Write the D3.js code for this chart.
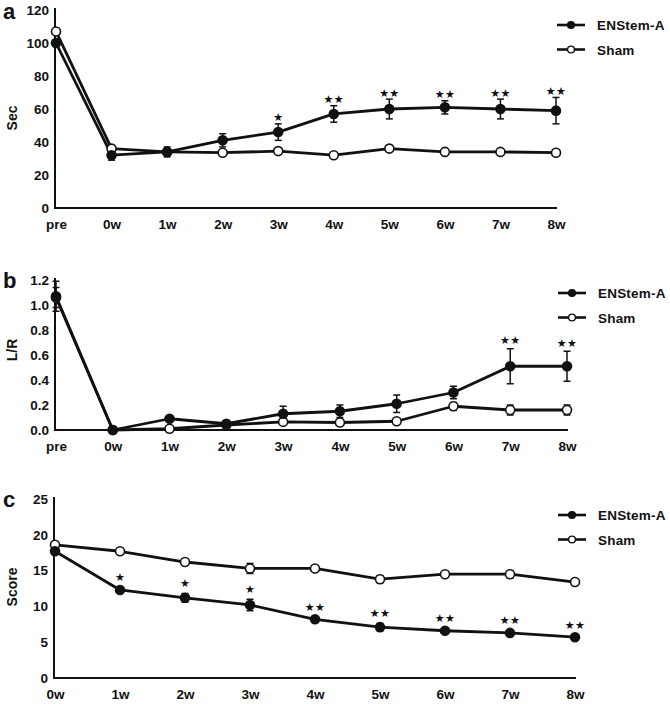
<!DOCTYPE html>
<html>
<head>
<meta charset="utf-8">
<script src="https://cdn.jsdelivr.net/npm/d3@7"></script>
<style>
  body { margin: 0; background: #fff; }
  svg { display: block; }
  text { font-family: "Liberation Sans", Arial, sans-serif; font-weight: bold; fill: #111; }
</style>
</head>
<body>
<svg id="chart" width="670" height="704"></svg>
<script>
// ---------- DATA ----------
const catsAB = ["pre", "0w", "1w", "2w", "3w", "4w", "5w", "6w", "7w", "8w"];
const catsC = ["0w", "1w", "2w", "3w", "4w", "5w", "6w", "7w", "8w"];
const seriesNames = ["ENStem-A", "Sham"];

// Panel a (Sec)
const aTicks = [0, 20, 40, 60, 80, 100, 120];
const aEN = [100, 32, 34, 41, 46, 57, 60, 61, 60, 59];
const aENerr = [2, 3, 3, 4, 5, 5, 6, 4, 6, 8];
const aSham = [107, 36, 34, 33.5, 34.5, 32, 36, 34, 34, 33.5];
const aShamErr = [1, 1, 1, 1, 1, 1, 1, 1, 1, 1];
const aSig = ["", "", "", "", "*", "**", "**", "**", "**", "**"];

// Panel b (L/R)
const bTicks = [0, 0.2, 0.4, 0.6, 0.8, 1.0, 1.2];
const bEN = [1.07, 0, 0.09, 0.05, 0.13, 0.15, 0.21, 0.30, 0.51, 0.51];
const bENerr = [0.12, 0, 0.02, 0.01, 0.06, 0.05, 0.07, 0.05, 0.14, 0.12];
const bSham = [1.06, 0, 0.01, 0.04, 0.065, 0.06, 0.07, 0.19, 0.16, 0.16];
const bShamErr = [0.08, 0, 0.01, 0.01, 0.02, 0.01, 0.01, 0.03, 0.04, 0.04];
const bSig = ["", "", "", "", "", "", "", "", "**", "**"];

// Panel c (Score)
const cTicks = [0, 5, 10, 15, 20, 25];
const cEN = [17.7, 12.3, 11.2, 10.2, 8.2, 7.1, 6.6, 6.3, 5.7];
const cENerr = [0.4, 0.3, 0.6, 0.8, 0.3, 0.5, 0.3, 0.3, 0.3];
const cSham = [18.6, 17.7, 16.2, 15.3, 15.3, 13.8, 14.5, 14.5, 13.4];
const cShamErr = [0.3, 0.3, 0.4, 0.7, 0.3, 0.5, 0.3, 0.5, 0.3];
const cSig = ["", "*", "*", "*", "**", "**", "**", "**", "**"];

// ---------- DRAW ----------
const svg = d3.select("#chart");

const panels = [
  { letter: "a", ylabel: "Sec", cats: catsAB, ticks: aTicks, fmt: d3.format("d"),
    en: aEN, enErr: aENerr, sham: aSham, shamErr: aShamErr, sig: aSig,
    x0: 56, x1: 556, yTop: 10, yBot: 208, letterY: 19, ylabY: 118,
    legY: 25, legX: 557, starOff: 7 },
  { letter: "b", ylabel: "L/R", cats: catsAB, ticks: bTicks, fmt: d3.format(".1f"),
    en: bEN, enErr: bENerr, sham: bSham, shamErr: bShamErr, sig: bSig,
    x0: 56, x1: 567, yTop: 280, yBot: 430, letterY: 288, ylabY: 350,
    legY: 293, legX: 558, starOff: 9 },
  { letter: "c", ylabel: "Score", cats: catsC, ticks: cTicks, fmt: d3.format("d"),
    en: cEN, enErr: cENerr, sham: cSham, shamErr: cShamErr, sig: cSig,
    x0: 55, x1: 575, yTop: 499, yBot: 678, letterY: 507, ylabY: 587,
    legY: 515, legX: 558, starOff: 11 }
];

panels.forEach(p => {
  const g = svg.append("g");
  const x = d3.scalePoint().domain(p.cats).range([p.x0, p.x1]);
  const ymax = p.ticks[p.ticks.length - 1];
  const y = d3.scaleLinear().domain([0, ymax]).range([p.yBot, p.yTop]);

  // panel letter
  g.append("text").attr("x", 3).attr("y", p.letterY)
    .attr("font-size", 22).text(p.letter);

  // y axis (no tick marks)
  const yAxis = g.append("g").attr("transform", `translate(${p.x0 - 1},0)`)
    .call(d3.axisLeft(y).tickValues(p.ticks).tickFormat(p.fmt).tickSize(0).tickPadding(6));
  yAxis.select(".domain").attr("stroke", "#111").attr("stroke-width", 2)
    .attr("d", `M0,${y(0) + 1}V${y(ymax) - 2}`);
  yAxis.selectAll("text").attr("font-size", 13.5)
    .style("font-family", "'Liberation Sans', Arial, sans-serif").style("font-weight", "bold")
    .attr("fill", "#111");

  // x axis
  const xAxis = g.append("g").attr("transform", `translate(0,${p.yBot})`)
    .call(d3.axisBottom(x).tickSize(0).tickPadding(11));
  xAxis.select(".domain").attr("stroke", "#111").attr("stroke-width", 2)
    .attr("d", `M${p.x0 - 2},0H${p.x1 + 1}`);
  xAxis.selectAll("text").attr("font-size", 13.5)
    .style("font-family", "'Liberation Sans', Arial, sans-serif").style("font-weight", "bold")
    .attr("fill", "#111");

  // y label
  g.append("text")
    .attr("transform", `translate(17,${p.ylabY}) rotate(-90)`)
    .attr("text-anchor", "middle").attr("font-size", 14).text(p.ylabel);

  const line = d3.line().x((d, i) => x(p.cats[i])).y(d => y(d));

  const series = [
    { vals: p.en, err: p.enErr, filled: true },
    { vals: p.sham, err: p.shamErr, filled: false }
  ];

  // lines
  series.forEach(s => {
    g.append("path").datum(s.vals).attr("d", line)
      .attr("fill", "none").attr("stroke", "#111").attr("stroke-width", 2.8)
      .attr("stroke-linejoin", "round");
  });

  // error bars
  series.forEach(s => {
    const eg = g.append("g").attr("stroke", "#111").attr("stroke-width", 1.5);
    s.vals.forEach((v, i) => {
      const e = s.err[i];
      if (!e) return;
      const cx = x(p.cats[i]);
      const yt = y(v + e), yb = y(Math.max(0, v - e));
      eg.append("line").attr("x1", cx).attr("x2", cx).attr("y1", yt).attr("y2", yb);
      eg.append("line").attr("x1", cx - 3.5).attr("x2", cx + 3.5).attr("y1", yt).attr("y2", yt);
      eg.append("line").attr("x1", cx - 3.5).attr("x2", cx + 3.5).attr("y1", yb).attr("y2", yb);
    });
  });

  // markers
  series.slice().reverse().forEach(s => {
    g.selectAll(null).data(s.vals).enter().append("circle")
      .attr("cx", (d, i) => x(p.cats[i])).attr("cy", d => y(d))
      .attr("r", 4.5)
      .attr("fill", s.filled ? "#111" : "#fff")
      .attr("stroke", "#111").attr("stroke-width", 1.6);
  });

  // significance stars
  p.sig.forEach((s, i) => {
    if (!s) return;
    const cx = x(p.cats[i]);
    const yt = y(p.en[i] + p.enErr[i]) - p.starOff;
    g.append("text").attr("x", cx).attr("y", yt + 4.5)
      .attr("text-anchor", "middle").attr("font-size", 11)
      .style("font-family", "'DejaVu Sans', sans-serif").style("font-weight", "normal")
      .attr("letter-spacing", 0.3)
      .text(s.replace(/\*/g, "\u2605"));
  });

  // legend
  seriesNames.forEach((name, k) => {
    const ly = p.legY + k * 24.5;
    const lg = g.append("g");
    lg.append("line").attr("x1", p.legX).attr("x2", p.legX + 28)
      .attr("y1", ly).attr("y2", ly).attr("stroke", "#111").attr("stroke-width", 2.6);
    lg.append("circle").attr("cx", p.legX + 14).attr("cy", ly).attr("r", 3.4)
      .attr("fill", k === 0 ? "#111" : "#fff").attr("stroke", "#111").attr("stroke-width", 1.4);
    lg.append("text").attr("x", p.legX + 40).attr("y", ly + 5)
      .attr("font-size", 13.5).attr("letter-spacing", 0.2).text(name);
  });
});
</script>
</body>
</html>
